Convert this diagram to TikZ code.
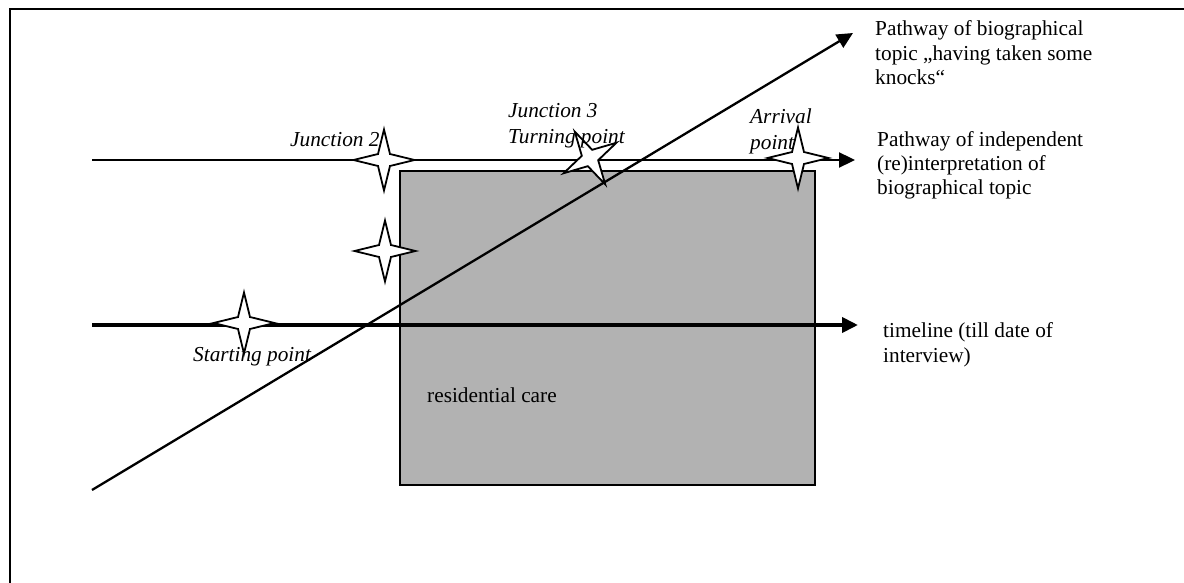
\documentclass[tikz,border=0pt]{standalone}
\usepackage{fontspec}
\setmainfont{Liberation Serif}
\usetikzlibrary{arrows.meta}
\usetikzlibrary{shapes.geometric}

\tikzset{
  pathtext/.style={font=\fontsize{21.3}{24.5}\selectfont, align=left, inner sep=0pt, anchor=base west},
  pointtext/.style={pathtext, font=\fontsize{21.3}{26.5}\selectfont\itshape},
  sparkle/.style={star, star points=4, star point ratio=3.6, minimum size=61pt, inner sep=0pt, draw, fill=white, line width=1.8pt},
  pathway/.style={line width=2.3pt, -{Triangle[length=16pt,width=15pt]}},
}

\begin{document}
\begin{tikzpicture}[x=1pt,y=1pt]
\useasboundingbox (0,0) rectangle (1184,-583);

% frame round the figure
\draw[line width=2.6pt] (9,-9) -- (1184,-9);
\draw[line width=2pt] (10,-9) -- (10,-583);

% residential care
\node[draw, fill=black!30, line width=1.8pt, minimum width=415pt, minimum height=314pt, inner sep=0pt, anchor=north west] (care) at (399,-170) {};
\node[pathtext] (carelabel) at (427,-402) {residential care};

% end points of the three pathways
\coordinate (interp start) at (92,-160);
\coordinate (interp end) at (855,-160);
\coordinate (time start) at (92,-325);
\coordinate (time end) at (858,-325);
\coordinate (topic start) at (92,-490);
\coordinate (topic end) at (853,-33);

\draw[pathway] (interp start) -- (interp end);
\draw[pathway, line width=3.8pt] (time start) -- (time end);

% junctions
\node[sparkle] (junction2) at (384,-160) {};
\node[sparkle] (junction1) at (385,-251) {};
\node[sparkle] (start) at (244,-323) {};
\node[sparkle, rotate=30] (turn) at (590,-158) {};
\node[sparkle] (arrival) at (798,-158) {};

\draw[pathway] (topic start) -- (topic end);

% labels of the junctions (base = last line)
\node[pointtext] (junction2label) at (290,-147) {Junction 2};
\node[pointtext] (turnlabel) at (508,-144) {Junction 3\\Turning point};
\node[pointtext] (arrivallabel) at (750,-150) {Arrival\\point};
\node[pointtext] (startlabel) at (193,-361) {Starting point};

% labels of the pathways (base = last line)
\node[pathtext] (topiclabel) at (875,-85) {Pathway of biographical\\topic „having taken some\\knocks“};
\node[pathtext] (interplabel) at (877,-195) {Pathway of independent\\(re)interpretation of\\biographical topic};
\node[pathtext] (timelabel) at (883,-362) {timeline (till date of\\interview)};

\end{tikzpicture}
\end{document}
